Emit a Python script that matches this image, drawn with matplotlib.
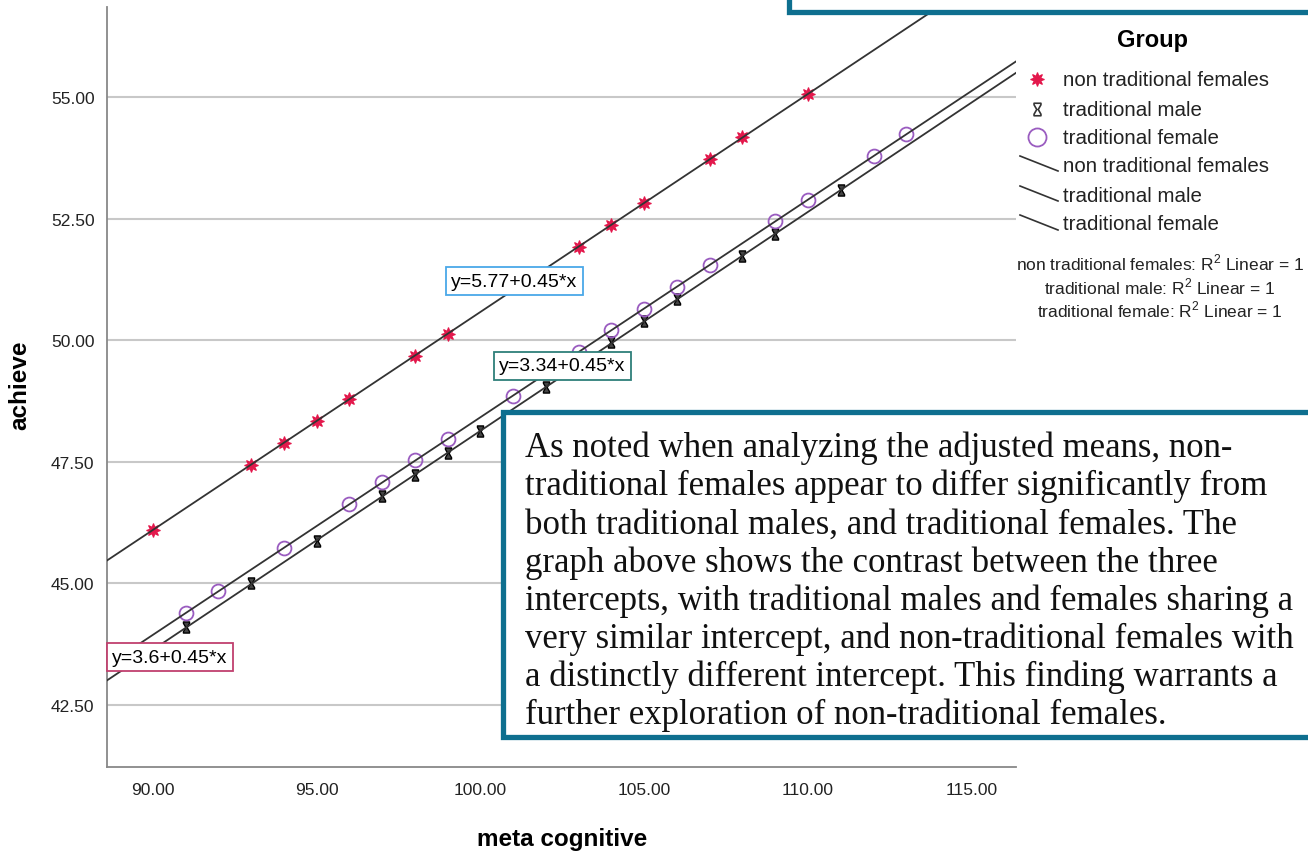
import numpy as np
import matplotlib
matplotlib.use("Agg")
import matplotlib.pyplot as plt
from matplotlib.path import Path
from matplotlib.patches import Rectangle
from matplotlib.lines import Line2D

plt.rcParams['font.family'] = ['Liberation Sans', 'DejaVu Sans']
plt.rcParams['mathtext.fontset'] = 'custom'
plt.rcParams['mathtext.rm'] = 'Liberation Sans'

# ---------- data ----------
ntf_x = [90, 93, 94, 95, 96, 98, 99, 103, 104, 105, 107, 108, 110]
ntf_y = [46.09, 47.44, 47.89, 48.34, 48.79, 49.68, 50.13, 51.92, 52.37, 52.82, 53.72, 54.17, 55.06]

tm_x = [91, 93, 95, 97, 98, 99, 100, 102, 104, 105, 106, 108, 109, 111]
tm_y = [44.09, 45.00, 45.86, 46.79, 47.22, 47.67, 48.13, 49.03, 49.96, 50.39, 50.84, 51.73, 52.18, 53.09]

tf_x = [91, 92, 94, 96, 97, 98, 99, 101, 103, 104, 105, 106, 107, 109, 110, 112, 113]
tf_y = [44.38, 44.84, 45.72, 46.63, 47.08, 47.53, 47.96, 48.85, 49.75, 50.21, 50.64, 51.09, 51.54,
        52.45, 52.88, 53.79, 54.24]

groups = ["non traditional females", "traditional male", "traditional female"]
eq_labels = ["y=5.77+0.45*x", "y=3.34+0.45*x", "y=3.6+0.45*x"]
x_ticks = [90, 95, 100, 105, 110, 115]
y_ticks = [42.5, 45, 47.5, 50, 52.5, 55]

note_lines = [
    "As noted when analyzing the adjusted means, non-",
    "traditional females appear to differ significantly from",
    "both traditional males, and traditional females. The",
    "graph above shows the contrast between the three",
    "intercepts, with traditional males and females sharing a",
    "very similar intercept, and non-traditional females with",
    "a distinctly different intercept. This finding warrants a",
    "further exploration of non-traditional females.",
]

RED, PURPLE, LINE = "#e3174b", "#9a5cc0", "#333333"
BOXBLUE = "#0e6f8f"

hourglass = Path([(-0.55, 1), (0.55, 1), (0.55, 0.75), (0.12, 0), (0.55, -0.75), (0.55, -1),
                  (-0.55, -1), (-0.55, -0.75), (-0.12, 0), (-0.55, 0.75), (-0.55, 1)],
                 [Path.MOVETO] + [Path.LINETO] * 9 + [Path.CLOSEPOLY])
star = (8, 1, 0)

W, H = 1308, 854
fig = plt.figure(figsize=(W / 100, H / 100), dpi=100)
ax = fig.add_axes([107 / W, 86 / H, (1016 - 107) / W, (846 - 86) / H])
XL, YL = (88.6, 116.35), (41.22, 56.85)
ax.set_xlim(*XL); ax.set_ylim(*YL)

# fit lines
xx = np.array(XL)
for gx, gy in [(ntf_x, ntf_y), (tm_x, tm_y), (tf_x, tf_y)]:
    b, a = np.polyfit(gx, gy, 1)
    ax.plot(xx, a + b * xx, color=LINE, lw=1.3, zorder=4)

ax.plot(ntf_x, ntf_y, ls="none", marker=star, ms=10, mfc=RED, mec=RED, mew=0.8, zorder=3)
ax.plot(tm_x, tm_y, ls="none", marker=hourglass, ms=8, mfc="#444444", mec="black", mew=1.0, zorder=3)
ax.plot(tf_x, tf_y, ls="none", marker="o", ms=10, mfc="none", mec=PURPLE, mew=1.3, zorder=3)

ax.set_xticks(x_ticks); ax.set_xticklabels([f"{v:.2f}" for v in x_ticks])
ax.set_yticks(y_ticks); ax.set_yticklabels([f"{v:.2f}" for v in y_ticks])
ax.tick_params(length=0, labelsize=12.5, labelcolor="#222222")
ax.tick_params(axis="x", pad=11)
ax.tick_params(axis="y", pad=9)
ax.grid(axis="y", color="#c8c8c8", lw=1.5)
ax.set_axisbelow(True)
for s in ["top", "right"]:
    ax.spines[s].set_visible(False)
for s in ["left", "bottom"]:
    ax.spines[s].set_color("#888888"); ax.spines[s].set_linewidth(1.3)

# equation labels
eq_pos = [(101.03, 51.21), (102.5, 49.47), (90.52, 43.48)]
eq_edge = ["#4aa8e8", "#2e7f7a", "#c0406e"]
for lab, (px, py), ec in zip(eq_labels, eq_pos, eq_edge):
    ax.text(px, py, lab, ha="center", va="center", fontsize=14, zorder=6,
            bbox=dict(boxstyle="square,pad=0.28", fc="white", ec=ec, lw=1.3))

fig.text(20 / W, 1 - 385 / H, "achieve", rotation=90, ha="center", va="center",
         fontsize=17.5, fontweight="bold")
fig.text(562 / W, 1 - 840 / H, "meta cognitive", ha="center", va="center",
         fontsize=17.5, fontweight="bold")

# legend (drawn by hand to get the slanted line keys)
fx = lambda x: x / W
fy = lambda y: 1 - y / H
fig.text(fx(1152), fy(40), "Group", ha="center", va="center", fontsize=17, fontweight="bold")
mk_rows = [(80, dict(marker=star, ms=10, mfc=RED, mec=RED, mew=0.8)),
           (110, dict(marker=hourglass, ms=9, mfc="white", mec="#333333", mew=1.2)),
           (138, dict(marker="o", ms=13, mfc="none", mec=PURPLE, mew=1.3))]
for (yy, kw), g in zip(mk_rows, groups):
    fig.add_artist(Line2D([fx(1037)], [fy(yy)], ls="none", transform=fig.transFigure, **kw))
    fig.text(fx(1063), fy(yy), g, ha="left", va="center", fontsize=14.8, color="#222222")
for yy, g in zip([166, 196, 225], groups):
    fig.add_artist(Line2D([fx(1020), fx(1058)], [fy(yy - 9), fy(yy + 6)], color=LINE, lw=1.2,
                          transform=fig.transFigure))
    fig.text(fx(1063), fy(yy), g, ha="left", va="center", fontsize=14.8, color="#222222")
for yy, g in zip([263, 287, 310], groups):
    fig.text(fx(1160), fy(yy), g + r": R$^{2}$ Linear = 1", ha="center", va="center",
             fontsize=12.5, color="#222222")

# annotation boxes
fig.add_artist(Rectangle((fx(789), fy(13)), fx(560), 0.1, transform=fig.transFigure,
                         fc="white", ec=BOXBLUE, lw=3.8, zorder=10))
fig.add_artist(Rectangle((fx(503), fy(738)), fx(840), (738 - 413) / H, transform=fig.transFigure,
                         fc="white", ec=BOXBLUE, lw=3.8, zorder=10))
for i, line in enumerate(note_lines):
    fig.text(fx(525), fy(457 + i * 38.2), line, ha="left", va="baseline", fontsize=25,
             family=["Liberation Serif", "DejaVu Serif"], color="#111111", zorder=11)

fig.savefig("out.png", dpi=100)
